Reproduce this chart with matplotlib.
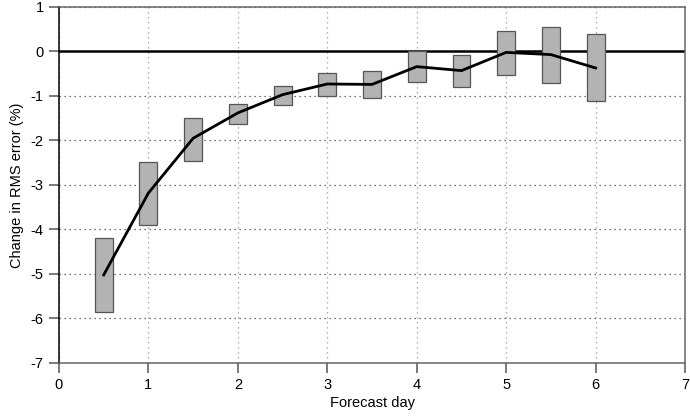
import matplotlib.pyplot as plt
import numpy as np

# forecast day for each box, and the box ranges / mean change (%)
days = [0.5, 1.0, 1.5, 2.0, 2.5, 3.0, 3.5, 4.0, 4.5, 5.0, 5.5, 6.0]
box_top = [-4.19, -2.49, -1.50, -1.17, -0.77, -0.48, -0.43, 0.00, -0.07, 0.46, 0.55, 0.40]
box_bottom = [-5.86, -3.90, -2.45, -1.63, -1.20, -1.00, -1.05, -0.69, -0.79, -0.53, -0.71, -1.12]
mean_change = [-5.02, -3.18, -1.95, -1.38, -0.97, -0.73, -0.74, -0.34, -0.43, -0.02, -0.07, -0.37]

x_ticks = list(range(0, 8))
y_ticks = list(range(-7, 2))

plt.rcParams["font.family"] = ["Liberation Sans", "DejaVu Sans"]
plt.rcParams["font.size"] = 10
plt.rcParams["axes.unicode_minus"] = False

fig = plt.figure(figsize=(6.9, 4.19), dpi=100)
ax = fig.add_axes([0.0855, 0.1337, 0.9073, 0.8496])

box_width = 0.2
for d, top, bot in zip(days, box_top, box_bottom):
    ax.add_patch(plt.Rectangle((d - box_width / 2, bot), box_width, top - bot,
                               facecolor="#b3b3b3", edgecolor="#555555",
                               linewidth=0.9, zorder=3))

ax.plot(days, mean_change, color="black", linewidth=2.0, zorder=4)
ax.axhline(0, color="black", linewidth=1.8, zorder=2)

ax.set_xlim(0, 7)
ax.set_ylim(-7, 1)
ax.set_xticks(x_ticks)
ax.set_yticks(y_ticks)

ax.xaxis.grid(True, linestyle=(0, (1, 3)), color="#999999", linewidth=0.9)
ax.yaxis.grid(True, linestyle=(0, (1, 3)), color="#444444", linewidth=0.9)
ax.set_axisbelow(True)

for side in ["top", "right", "bottom"]:
    ax.spines[side].set_color("#666666")
ax.spines["left"].set_color("black")
for s in ax.spines.values():
    s.set_linewidth(1.1)

ax.tick_params(direction="out", length=7, width=1.1, color="#555555",
               labelsize=10.5, pad=4)

ax.set_xlabel("Forecast day", fontsize=10.5, labelpad=3)
ax.set_ylabel("Change in RMS error (%)", fontsize=10.5, labelpad=5)

fig.savefig("out.png", dpi=100)
